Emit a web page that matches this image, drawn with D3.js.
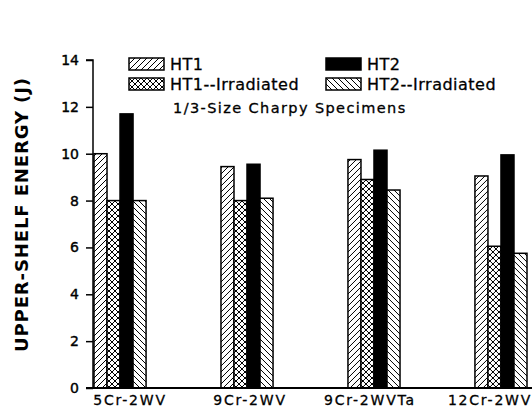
<!DOCTYPE html>
<html>
<head>
<meta charset="utf-8">
<script src="https://cdn.jsdelivr.net/npm/d3@7"></script>
<style>
  body { margin: 0; background: #fff; }
  svg text { font-family: "DejaVu Sans", "Liberation Sans", Arial, sans-serif; fill: #000; }
</style>
</head>
<body>
<svg id="drawspace" width="532" height="408"></svg>
<script>
let categories = ["5Cr-2WV", "9Cr-2WV", "9Cr-2WVTa", "12Cr-2WV"];
let seriesNames = ["HT1", "HT1--Irradiated", "HT2", "HT2--Irradiated"];
let ht1 = [10.0, 9.45, 9.75, 9.05];
let ht1Irr = [8.0, 8.0, 8.9, 6.05];
let ht2 = [11.7, 9.55, 10.15, 9.95];
let ht2Irr = [8.0, 8.1, 8.45, 5.75];
let yTicks = [0, 2, 4, 6, 8, 10, 12, 14];

let svg = d3.select("#drawspace");

// hatch patterns
let defs = svg.append("defs");
function hatch(id, paths) {
  let p = defs.append("pattern").attr("id", id)
    .attr("patternUnits", "userSpaceOnUse").attr("width", 6).attr("height", 6);
  p.append("rect").attr("width", 6).attr("height", 6).attr("fill", "#fff");
  paths.forEach(d => p.append("path").attr("d", d).attr("stroke", "#000").attr("stroke-width", 1));
}
hatch("fwd", ["M-1,7 L7,-1", "M-4,4 L4,-4", "M2,10 L10,2"]);
hatch("back", ["M-1,-1 L7,7", "M-4,2 L4,10", "M2,-4 L10,4"]);
hatch("cross", ["M-1,7 L7,-1", "M-4,4 L4,-4", "M2,10 L10,2", "M-1,-1 L7,7", "M-4,2 L4,10", "M2,-4 L10,4"]);
let fills = ["url(#fwd)", "url(#cross)", "#000", "url(#back)"];

let x0 = 93, y0 = 388, yTop = 60;
let yscale = d3.scaleLinear().domain([0, 14]).range([y0, yTop]);
let xscale = d3.scaleBand().domain(categories).range([94, 527]).paddingInner(0.59).paddingOuter(0);
let xinner = d3.scaleBand().domain(seriesNames).range([0, xscale.bandwidth()]);
// category labels sit on their own evenly spaced positions
let xlabel = d3.scalePoint().domain(categories).range([130, 490]);

let rows = categories.map((c, i) => ({cat: c, vals: [ht1[i], ht1Irr[i], ht2[i], ht2Irr[i]]}));

let groups = svg.append("g").selectAll("g").data(rows).enter().append("g")
  .attr("transform", d => "translate(" + xscale(d.cat) + ",0)");
groups.selectAll("rect").data(d => d.vals.map((v, j) => ({s: seriesNames[j], v: v, j: j})))
  .enter().append("rect")
  .attr("x", d => xinner(d.s))
  .attr("width", xinner.bandwidth())
  .attr("y", d => yscale(d.v))
  .attr("height", d => y0 - yscale(d.v))
  .attr("fill", d => fills[d.j])
  .attr("stroke", "#000").attr("stroke-width", 1.5);

// y axis
let yAxis = svg.append("g").attr("transform", "translate(" + x0 + ",0)")
  .call(d3.axisLeft(yscale).tickValues(yTicks).tickSize(7).tickPadding(7).tickFormat(d3.format("d")));
yAxis.select(".domain").attr("stroke-width", 1.5).attr("d", "M-7," + yTop + "H0V" + y0);
yAxis.selectAll("line").attr("stroke-width", 1.5);
yAxis.selectAll("text").style("font-size", "14px")
  .style("font-family", "DejaVu Sans, sans-serif")
  .attr("stroke", "#000").attr("stroke-width", 0.4);

// x baseline and category labels
svg.append("line").attr("x1", x0 - 7).attr("x2", 532).attr("y1", y0).attr("y2", y0)
  .attr("stroke", "#000").attr("stroke-width", 2);
svg.append("g").selectAll("text").data(categories).enter().append("text")
  .attr("x", d => xlabel(d))
  .attr("y", 405)
  .attr("text-anchor", "middle")
  .attr("stroke", "#000").attr("stroke-width", 0.3)
  .style("font-size", "14px").style("letter-spacing", "1.8px")
  .text(d => d);

// y title
svg.append("text").attr("transform", "translate(28,215) rotate(-90)")
  .attr("text-anchor", "middle")
  .attr("textLength", 274).attr("lengthAdjust", "spacing")
  .style("font-size", "18px").style("font-weight", "bold")
  .text("UPPER-SHELF ENERGY (J)");

// legend
let legPos = [[129, 58], [129, 78], [326, 58], [326, 78]];
let leg = svg.append("g").selectAll("g").data(seriesNames).enter().append("g")
  .attr("transform", (d, i) => "translate(" + legPos[i][0] + "," + legPos[i][1] + ")");
leg.append("rect").attr("width", 35).attr("height", 12)
  .attr("fill", (d, i) => fills[i]).attr("stroke", "#000").attr("stroke-width", 1.5);
leg.append("text").attr("x", 41).attr("y", 12)
  .attr("stroke", "#000").attr("stroke-width", 0.3)
  .style("font-size", "16px").style("letter-spacing", "0.5px")
  .text(d => d);
svg.append("text").attr("x", 173).attr("y", 113)
  .attr("stroke", "#000").attr("stroke-width", 0.3)
  .style("font-size", "14.5px").style("letter-spacing", "1.4px")
  .text("1/3-Size Charpy Specimens");
</script>
</body>
</html>
